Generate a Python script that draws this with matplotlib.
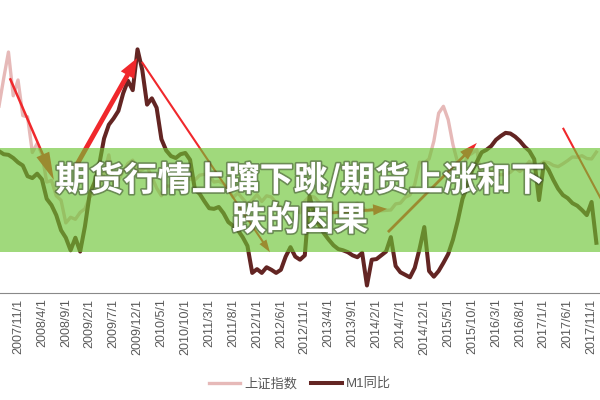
import matplotlib
matplotlib.use("Agg")
import matplotlib.pyplot as plt
import matplotlib.patheffects as pe
from matplotlib.patches import Rectangle
import pandas as pd

plt.rcParams["font.family"] = ["Liberation Sans", "Noto Sans CJK SC", "DejaVu Sans"]

# monthly categories, 2007/7/1 .. 2017/12/1
months = [f"{d.year}/{d.month}/1" for d in pd.date_range("2007-07-01", "2017-12-01", freq="MS")]

# 上证指数
sh_index = [
    4600, 5300, 5950, 4870, 5260, 4380, 4350, 3470, 3690, 3430,
    2740, 2780, 2400, 2290, 1730, 1870, 1820, 1990, 2080, 2370,
    2480, 2630, 2960, 3410, 2670, 2780, 3000, 3200, 3280, 2990,
    3050, 3110, 2870, 2590, 2400, 2640, 2640, 2660, 2980, 2820,
    2810, 2790, 2910, 2930, 2910, 2740, 2760, 2700, 2570, 2360,
    2470, 2330, 2200, 2290, 2430, 2260, 2400, 2370, 2230, 2100,
    2050, 2090, 2070, 1980, 2270, 2390, 2370, 2240, 2180, 2300,
    1980, 1990, 2100, 2170, 2140, 2220, 2120, 2030, 2060, 2030,
    2030, 2040, 2050, 2200, 2220, 2360, 2420, 2680, 3230, 3210,
    3310, 3750, 4440, 4610, 4280, 3660, 3210, 3050, 3380, 3450,
    3540, 2740, 2690, 3000, 2940, 2920, 2930, 2980, 3090, 3000,
    3100, 3250, 3100, 3160, 3240, 3220, 3150, 3120, 3190, 3270,
    3360, 3350, 3390, 3320, 3310, 3480,
]

# M1同比 (%)
m1_yoy = [
    22.6, 22.1, 22.0, 21.5, 20.8, 20.3, 18.6, 18.3, 19.0, 18.1,
    15.0, 14.0, 12.4, 10.0, 8.8, 6.8, 8.8, 6.6, 10.6, 15.8,
    17.6, 20.5, 24.6, 26.8, 27.8, 29.0, 31.8, 33.8, 32.3, 38.8,
    35.5, 30.0, 31.0, 29.5, 24.5, 22.7, 21.8, 21.5, 22.1, 22.3,
    21.2, 16.5, 15.8, 14.6, 13.5, 13.4, 13.7, 12.7, 11.3, 10.7,
    10.0, 8.9, 7.5, 3.2, 3.8, 3.2, 4.1, 3.7, 3.2, 3.7,
    5.8, 7.3, 5.8, 5.3, 6.0, 15.4, 12.5, 10.8, 9.5, 8.5,
    7.6, 7.0, 6.8, 6.5, 6.0, 5.7, 6.4, 1.2, 5.3, 5.4,
    6.0, 6.6, 8.9, 4.3, 3.3, 2.9, 2.5, 4.0, 7.0, 10.5,
    3.5, 2.6, 3.5, 4.8, 6.2, 8.5, 11.5, 15.0, 17.0, 19.5,
    20.9, 22.4, 22.8, 23.4, 24.4, 25.0, 25.5, 25.4, 24.9, 24.2,
    23.3, 22.6, 21.3, 14.8, 20.6, 19.6, 18.0, 16.6, 15.6, 15.1,
    14.3, 13.9, 13.2, 12.4, 14.5, 8.0,
]

# hand-drawn arrows: start (category, %), end (category, %), tail width, head length, head width
arrows = [
    (2.3, 34.2, 11.5, 18.0, 0.18, 2.0, 1.0),
    (15.9, 19.9, 28.9, 37.4, 0.35, 1.4, 1.1),
    (29.9, 36.8, 56.7, 6.5, 0.15, 0.9, 0.6),
    (68.2, 12.7, 81.2, 13.4, 0.2, 1.0, 0.8),
    (81.4, 9.7, 100.0, 23.9, 0.2, 1.3, 0.8),
    (118.0, 26.3, 128.9, 10.8, 0.15, 1.0, 0.6),
]

x = list(range(len(months)))

fig = plt.figure(figsize=(6, 4), dpi=100)
ax = fig.add_axes([0, 0.2675, 1, 0.7325])
ax2 = ax.twinx()

ax.plot(x, sh_index, color="#E6B9B8", lw=2.4, solid_joinstyle="round", label="上证指数")
ax2.plot(x, m1_yoy, color="#632523", lw=2.9, solid_joinstyle="round", label="M1同比")

ax.set_xlim(0.23, 125.76)
ax.set_ylim(0, 7235)
ax2.set_ylim(0, 46.66)

for x0, y0, x1, y1, tw, hl, hw in arrows:
    ax2.annotate(
        "", xy=(x1, y1), xytext=(x0, y0), annotation_clip=False,
        arrowprops=dict(arrowstyle=f"simple,head_length={hl},head_width={hw},tail_width={tw}",
                        color="#F0282C", lw=0, shrinkA=0, shrinkB=0),
        zorder=4,
    )

ticks = x[4::5]
ax.set_xticks(ticks)
ax.set_xticklabels([months[i] for i in ticks], rotation=90, fontsize=9, color="#595959")
ax.tick_params(axis="x", length=0, pad=4)
ax.set_yticks([])
ax2.set_yticks([])
for name, sp in ax.spines.items():
    sp.set_visible(name == "bottom")
ax.spines["bottom"].set_color("#898989")
ax.spines["bottom"].set_linewidth(0.8)
for sp in ax2.spines.values():
    sp.set_visible(False)

h1, l1 = ax.get_legend_handles_labels()
h2, l2 = ax2.get_legend_handles_labels()
leg = fig.legend(h1 + h2, l1 + l2, loc="center", bbox_to_anchor=(0.5, 0.04), ncol=2,
                 frameon=False, fontsize=9.5, handlelength=2.4, columnspacing=1.0,
                 handletextpad=0.3)
for t in leg.get_texts():
    t.set_color("#595959")

# green banner over the plot
fig.patches.append(Rectangle((0, 0.37), 1, 0.26, transform=fig.transFigure,
                             facecolor=(0.42, 0.77, 0.20), alpha=0.64, lw=0, zorder=8))

shadow = [pe.withStroke(linewidth=2.4, foreground=(0.25, 0.3, 0.2, 0.55))]
fig.text(0.5, 0.55, "期货行情上蹿下跳/期货上涨和下", ha="center", va="center",
         fontsize=24.5, weight="heavy", color="white", family=["Noto Sans CJK SC"],
         path_effects=shadow, zorder=10)
fig.text(0.5, 0.45, "跌的因果", ha="center", va="center",
         fontsize=24.5, weight="heavy", color="white", family=["Noto Sans CJK SC"],
         path_effects=shadow, zorder=10)

fig.savefig("out.png", dpi=100)
